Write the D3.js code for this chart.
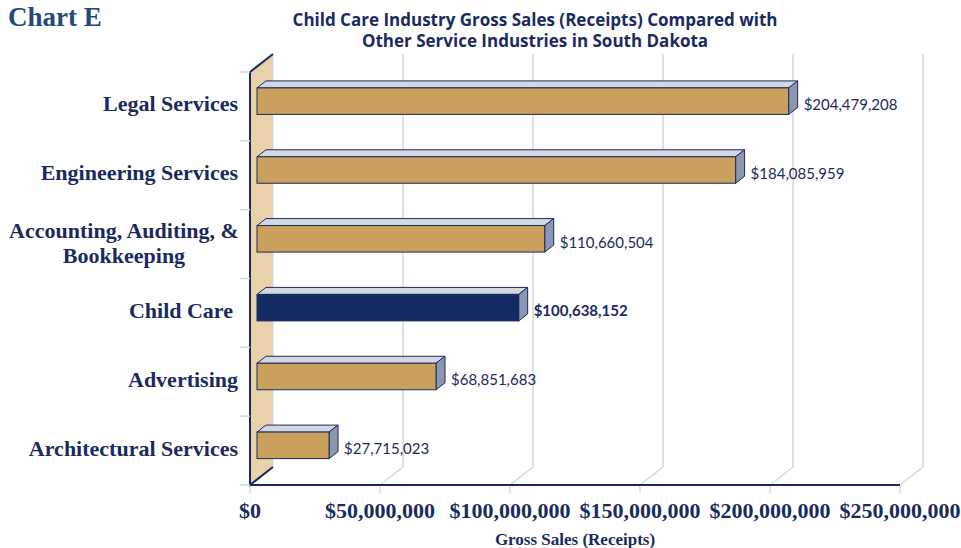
<!DOCTYPE html>
<html>
<head>
<meta charset="utf-8">
<script src="https://cdn.jsdelivr.net/npm/d3@7"></script>
<style>
  body { margin: 0; background: #fff; }
  svg { display: block; }
</style>
</head>
<body>
<div id="chart"></div>
<script>
// data
const categories = ['Legal Services', 'Engineering Services', 'Accounting, Auditing, & Bookkeeping',
  'Child Care', 'Advertising', 'Architectural Services']
const sales = [204479208, 184085959, 110660504, 100638152, 68851683, 27715023]
const highlight = 'Child Care'
const tickValues = [0, 50000000, 100000000, 150000000, 200000000, 250000000]

const W = 961
const H = 548
const navy = '#1b2a5e'
const tan = '#c9a05c'
const wallFill = '#e9d2ab'
const topFace = '#d3d7e1'
const sideFace = '#8b97b1'
const gridColor = '#d3d7e0'

// wall depth and bar depth (pseudo 3d)
const wdx = 23
const wdy = -18
const bdx = 9
const bdy = -7
const barInset = 7

const svg = d3.select('#chart').append('svg')
  .attr('width', W)
  .attr('height', H)

const x = d3.scaleLinear().domain([0, 250000000]).range([250, 900])
const y = d3.scaleBand().domain(categories).range([72, 485])
const yTop = y.range()[0]
const yBot = y.range()[1]
const x0 = x(0)

// titles
svg.append('text')
  .attr('x', 8).attr('y', 26)
  .attr('font-family', 'Liberation Serif, serif')
  .attr('font-weight', 'bold')
  .attr('font-size', 27)
  .attr('fill', '#1f4b7d')
  .text('Chart E')

const titleLines = ['Child Care Industry Gross Sales (Receipts) Compared with',
  'Other Service Industries in South Dakota']
svg.selectAll('.title').data(titleLines).enter().append('text')
  .attr('class', 'title')
  .attr('x', 535)
  .attr('y', (d, i) => 26 + i * 21)
  .attr('text-anchor', 'middle')
  .attr('font-family', 'Open Sans, sans-serif')
  .attr('font-weight', 'bold')
  .attr('font-size', 17)
  .attr('fill', navy)
  .text(d => d)

// back wall gridlines
tickValues.forEach(function (v) {
  if (v === 0) return
  const gx = x(v)
  svg.append('polyline')
    .attr('points', [[gx + wdx, yTop + wdy], [gx + wdx, yBot + wdy], [gx, yBot]].join(' '))
    .attr('fill', 'none')
    .attr('stroke', gridColor)
    .attr('stroke-width', 1.5)
})

// left wall
svg.append('polygon')
  .attr('points', [[x0, yTop], [x0 + wdx, yTop + wdy], [x0 + wdx, yBot + wdy], [x0, yBot]].join(' '))
  .attr('fill', wallFill)
  .attr('stroke', gridColor)
  .attr('stroke-width', 1)
svg.append('polyline')
  .attr('points', [[x0 + wdx, yBot + wdy], [x0, yBot], [x0, yTop], [x0 + wdx, yTop + wdy]].join(' '))
  .attr('fill', 'none')
  .attr('stroke', navy)
  .attr('stroke-width', 2)

// category ticks on the left
const bounds = categories.map(c => y(c)).concat([yBot])
svg.selectAll('.ytick').data(bounds).enter().append('line')
  .attr('x1', x0 - 10).attr('x2', x0)
  .attr('y1', d => d).attr('y2', d => d)
  .attr('stroke', gridColor)
  .attr('stroke-width', 1.5)

// baseline and ticks
svg.append('line')
  .attr('x1', x0).attr('x2', x(250000000))
  .attr('y1', yBot).attr('y2', yBot)
  .attr('stroke', navy)
  .attr('stroke-width', 2)
svg.selectAll('.xtick').data(tickValues).enter().append('line')
  .attr('x1', d => x(d)).attr('x2', d => x(d))
  .attr('y1', yBot + 1).attr('y2', yBot + 8)
  .attr('stroke', gridColor)
  .attr('stroke-width', 1.5)

const fmtTick = d => '$' + d3.format(',')(d)
svg.selectAll('.xlabel').data(tickValues).enter().append('text')
  .attr('x', d => x(d))
  .attr('y', 518)
  .attr('text-anchor', 'middle')
  .attr('font-family', 'Liberation Serif, serif')
  .attr('font-weight', 'bold')
  .attr('font-size', 22)
  .attr('fill', navy)
  .text(fmtTick)

svg.append('text')
  .attr('x', 575).attr('y', 545)
  .attr('text-anchor', 'middle')
  .attr('font-family', 'Liberation Serif, serif')
  .attr('font-weight', 'bold')
  .attr('font-size', 17)
  .attr('fill', navy)
  .text('Gross Sales (Receipts)')

// bars
const barH = 26.5
categories.forEach(function (c, i) {
  const v = sales[i]
  const cy = y(c) + y.bandwidth() / 2
  const top = cy - 18.5
  const bx0 = x0 + barInset
  const bx1 = bx0 + (x(v) - x0)
  const isHi = c === highlight

  svg.append('polygon')
    .attr('points', [[bx0, top], [bx0 + bdx, top + bdy], [bx1 + bdx, top + bdy], [bx1, top]].join(' '))
    .attr('fill', topFace)
    .attr('stroke', navy)
    .attr('stroke-width', 1)
    .attr('stroke-linejoin', 'round')
  svg.append('polygon')
    .attr('points', [[bx1, top], [bx1 + bdx, top + bdy], [bx1 + bdx, top + barH + bdy], [bx1, top + barH]].join(' '))
    .attr('fill', sideFace)
    .attr('stroke', navy)
    .attr('stroke-width', 1)
    .attr('stroke-linejoin', 'round')
  svg.append('rect')
    .attr('x', bx0).attr('y', top)
    .attr('width', bx1 - bx0).attr('height', barH)
    .attr('fill', isHi ? '#142b64' : tan)
    .attr('stroke', navy)
    .attr('stroke-width', 1)

  svg.append('text')
    .attr('x', bx1 + bdx + 6)
    .attr('y', top + 22)
    .attr('font-family', 'Lato, sans-serif')
    .attr('font-weight', isHi ? 'bold' : 'normal')
    .attr('font-size', 15)
    .attr('fill', navy)
    .text('$' + d3.format(',')(v))

  // category label
  const lab = svg.append('text')
    .attr('font-family', 'Liberation Serif, serif')
    .attr('font-weight', 'bold')
    .attr('font-size', 22)
    .attr('fill', navy)
  if (c.indexOf('Bookkeeping') >= 0) {
    lab.append('tspan').attr('x', 124).attr('y', cy - 6).attr('text-anchor', 'middle')
      .text('Accounting, Auditing, &')
    lab.append('tspan').attr('x', 124).attr('y', cy + 19).attr('text-anchor', 'middle')
      .text('Bookkeeping')
  } else {
    lab.attr('x', c === highlight ? 233 : 238).attr('y', cy + 5)
      .attr('text-anchor', 'end')
      .text(c)
  }
})
</script>
</body>
</html>
